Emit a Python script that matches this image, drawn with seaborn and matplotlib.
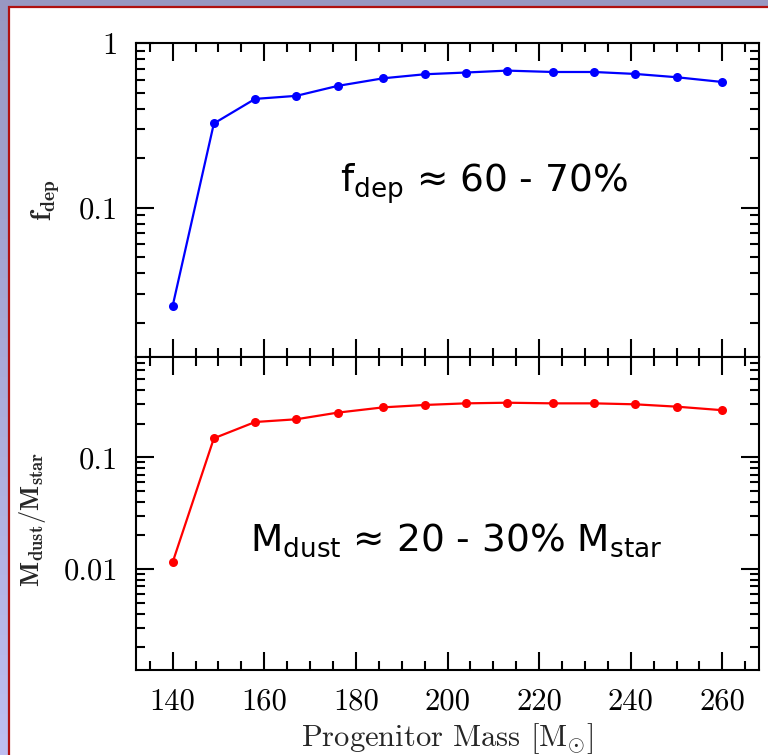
import numpy as np
import pandas as pd
import matplotlib
matplotlib.use("Agg")
import matplotlib.pyplot as plt
import seaborn as sns
from matplotlib.ticker import FixedLocator, FixedFormatter, LogLocator, NullFormatter, MultipleLocator
from matplotlib.patches import Rectangle

# ---- data ----
mass = [140, 149, 158, 167, 176, 186, 195, 204, 213, 223, 232, 241, 250, 260]
f_dep = [0.0254, 0.325, 0.458, 0.478, 0.549, 0.611, 0.646, 0.662, 0.680, 0.667, 0.667, 0.649, 0.620, 0.580]
dust_frac = [0.0115, 0.148, 0.207, 0.219, 0.251, 0.280, 0.294, 0.304, 0.308, 0.304, 0.304, 0.298, 0.284, 0.264]

x_ticks = [140, 160, 180, 200, 220, 240, 260]
x_ticklabels = ["140", "160", "180", "200", "220", "240", "260"]
top_yticks = [0.1, 1]
top_yticklabels = ["0.1", "1"]
bot_yticks = [0.01, 0.1]
bot_yticklabels = ["0.01", "0.1"]

top_note = r"$\mathregular{f_{dep}}$ ≈ 60 - 70%"
bot_note = r"$\mathregular{M_{dust}}$ ≈ 20 - 30% $\mathregular{M_{star}}$"
xlabel = r"Progenitor Mass [M$_{\odot}$]"
top_ylabel = r"$\mathbf{f_{dep}}$"
bot_ylabel = r"$\mathbf{M_{dust}/M_{star}}$"

df = pd.DataFrame({"mass": mass, "f_dep": f_dep, "dust": dust_frac})

sns.set_style("ticks")
plt.rcParams.update({
    "font.family": ["cmr10", "DejaVu Serif"],
    "axes.formatter.use_mathtext": True,
    "mathtext.fontset": "cm",
    "axes.linewidth": 1.5,
    "axes.edgecolor": "black",
})

W, H = 768, 755
fig = plt.figure(figsize=(W / 100, H / 100), dpi=100)

# background frame: lavender gradient + white panel with dark red edge
ax_bg = fig.add_axes([0, 0, 1, 1], zorder=-10)
grad = np.linspace(0, 1, 256).reshape(-1, 1)
top_c = np.array([152, 152, 194]) / 255
bot_c = np.array([190, 190, 240]) / 255
img = top_c[None, None, :] * (1 - grad[:, :, None]) + bot_c[None, None, :] * grad[:, :, None]
ax_bg.imshow(img, extent=[0, 1, 0, 1], aspect="auto", origin="upper")
ax_bg.add_patch(Rectangle((8.5 / W, -0.02), 1.0, (H - 7) / H + 0.02,
                          facecolor="white", edgecolor="#b01010", linewidth=1.6))
ax_bg.set_xlim(0, 1)
ax_bg.set_ylim(0, 1)
ax_bg.axis("off")

left = 136 / W
width = (759 - 136) / W
ax1 = fig.add_axes([left, (H - 357) / H, width, (357 - 43) / H])
ax2 = fig.add_axes([left, (H - 670) / H, width, (670 - 357) / H], sharex=ax1)

sns.lineplot(data=df, x="mass", y="f_dep", ax=ax1, color="#0000ff", marker="o",
             markersize=6.5, markeredgewidth=0, linewidth=1.6, sort=False, errorbar=None)
sns.lineplot(data=df, x="mass", y="dust", ax=ax2, color="#ff0000", marker="o",
             markersize=6.5, markeredgewidth=0, linewidth=1.6, sort=False, errorbar=None)

for ax in (ax1, ax2):
    ax.set_yscale("log")
    ax.set_facecolor("white")
    ax.set_xlim(132, 268)
    ax.xaxis.set_major_locator(FixedLocator(x_ticks))
    ax.xaxis.set_minor_locator(MultipleLocator(5))
    ax.yaxis.set_minor_locator(LogLocator(base=10, subs=np.arange(2, 10), numticks=50))
    ax.yaxis.set_minor_formatter(NullFormatter())
    ax.tick_params(which="both", direction="in", top=True, right=True, width=1.5,
                   colors="black", labelsize=22)
    ax.tick_params(which="major", length=13, pad=13)
    ax.tick_params(which="minor", length=6.5)
    for s in ax.spines.values():
        s.set_visible(True)
        s.set_linewidth(1.5)

ax1.set_ylim(0.01245, 1.0)
ax1.yaxis.set_major_locator(FixedLocator(top_yticks))
ax1.yaxis.set_major_formatter(FixedFormatter(top_yticklabels))
ax1.tick_params(axis="x", labelbottom=False)
ax1.set_xlabel("")

ax2.set_ylim(0.00125, 0.79)
ax2.yaxis.set_major_locator(FixedLocator(bot_yticks))
ax2.yaxis.set_major_formatter(FixedFormatter(bot_yticklabels))
ax2.xaxis.set_major_formatter(FixedFormatter(x_ticklabels))

ax2.set_xlabel(xlabel, fontsize=22, labelpad=4)
ax1.set_ylabel(top_ylabel, fontsize=20)
ax2.set_ylabel(bot_ylabel, fontsize=19)
ax1.yaxis.set_label_coords((62 - 136) / 623, 0.5)
ax2.yaxis.set_label_coords((48 - 136) / 623, 0.48)

ax1.text(0.559, 0.551, top_note, transform=ax1.transAxes, ha="center", va="center",
         fontsize=27, family="DejaVu Sans", color="black")
ax2.text(0.514, 0.415, bot_note, transform=ax2.transAxes, ha="center", va="center",
         fontsize=27, family="DejaVu Sans", color="black")

fig.savefig("out.png", dpi=100)
